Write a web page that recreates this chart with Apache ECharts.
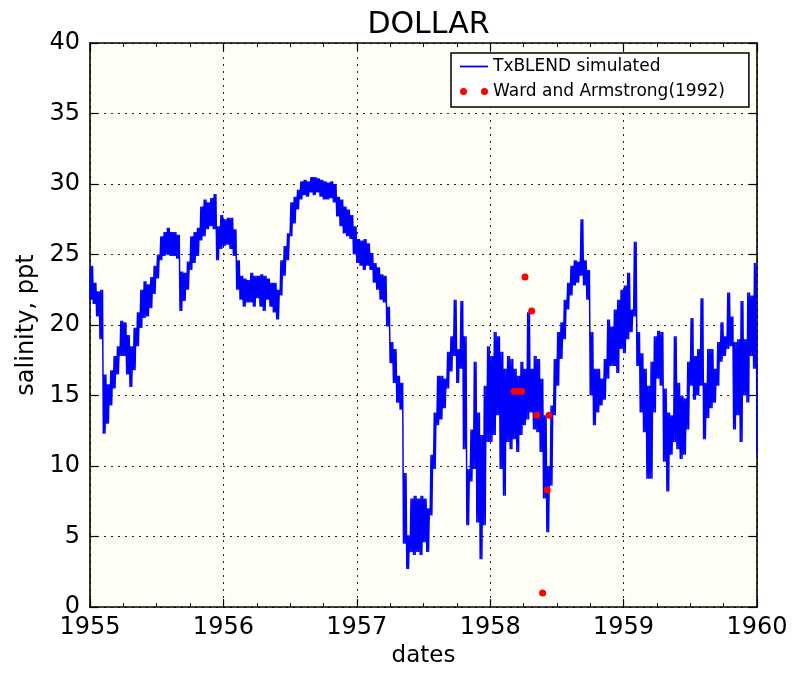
<!DOCTYPE html>
<html><head><meta charset="utf-8">
<script src="https://cdn.jsdelivr.net/npm/echarts@6/dist/echarts.min.js"></script>
<style>html,body{margin:0;padding:0;background:#fff}#c{width:795px;height:673px}</style>
</head><body><div id="c"></div>
<script>
// Simulated salinity, read from the picture as a high/low envelope every 0.025 year from 1955.0
const startYear = 1955;
const stepYears = 0.025;
const simHigh = [
24.2,23.0,22.4,22.5,16.5,15.8,16.8,17.8,18.5,20.3,
20.2,19.3,18.5,19.8,20.9,22.5,23.1,22.9,23.4,24.2,
25.0,26.3,26.6,26.9,26.6,26.6,26.4,23.8,23.7,24.5,
26.3,26.6,26.9,28.4,28.9,28.7,29.0,29.3,27.0,27.8,
27.5,27.6,27.6,26.8,24.6,23.5,23.3,23.2,23.7,23.5,
23.5,23.6,23.5,23.3,23.0,23.0,22.5,24.6,25.6,26.5,
28.7,29.1,29.6,30.2,30.3,30.2,30.5,30.5,30.4,30.3,
30.2,30.1,30.2,30.0,29.1,28.9,28.4,28.2,27.8,27.0,
26.1,26.0,26.1,25.8,25.1,24.4,24.1,23.6,23.5,21.3,
18.8,18.3,16.4,15.9,9.5,5.1,7.7,7.9,7.7,7.9,
7.7,7.0,10.8,13.8,16.4,16.4,16.2,18.1,19.2,21.8,
18.3,21.7,19.2,9.8,12.6,17.4,13.8,12.2,15.7,18.5,
17.8,19.5,19.2,18.1,16.9,17.8,17.6,16.9,16.4,17.4,
16.9,20.9,16.9,17.8,17.6,16.2,13.6,10.0,14.3,17.6,
19.5,20.2,21.8,23.0,24.2,24.6,24.5,27.5,24.6,23.9,
19.5,16.9,16.9,16.2,17.6,20.4,19.9,21.1,21.8,22.5,
22.8,23.7,21.1,25.9,19.5,18.0,16.9,15.7,17.4,19.2,
19.6,19.5,15.5,13.8,13.6,19.2,15.9,15.0,14.8,17.4,
20.5,17.8,18.3,21.9,15.9,18.3,18.3,16.9,18.8,20.2,
19.2,22.3,20.6,18.8,19.0,21.7,19.0,22.3,22.1,24.4,
17.8];
const simLow = [
21.8,21.5,20.6,19.0,12.3,13.0,14.3,15.5,16.5,17.8,
17.8,16.5,15.6,16.8,18.5,19.8,20.5,20.6,21.2,22.2,
23.3,24.6,24.9,25.0,24.9,24.9,24.7,21.0,21.7,22.5,
23.9,24.4,24.9,26.0,26.3,26.8,27.0,26.8,24.6,25.4,
25.6,25.7,25.4,24.9,22.5,21.8,21.3,21.6,21.6,21.3,
21.9,21.3,21.0,21.8,21.3,20.9,20.4,22.1,23.5,24.6,
26.3,27.2,28.2,28.9,29.2,29.1,29.4,29.2,29.4,29.1,
28.9,28.9,29.0,28.7,27.7,27.0,26.5,26.3,26.1,25.0,
24.4,24.2,23.9,24.2,23.9,23.0,22.5,21.8,21.6,19.9,
17.3,15.9,14.5,14.0,4.5,2.7,3.9,3.7,3.9,3.7,
4.6,3.9,6.5,9.8,12.9,13.3,14.1,15.5,16.7,17.8,
15.9,16.9,11.2,5.8,8.9,9.8,6.0,3.4,5.8,11.7,
11.7,12.2,13.6,9.8,7.9,11.7,11.2,11.9,11.0,12.2,
12.9,13.3,13.8,12.6,12.4,11.0,7.7,5.3,8.6,13.6,
15.7,17.6,19.0,21.1,22.1,22.8,23.0,23.5,22.8,21.8,
15.0,12.9,13.8,14.3,14.7,16.2,17.1,17.1,16.6,18.3,
18.0,19.0,19.5,20.6,17.1,13.8,12.4,9.1,9.1,13.8,
16.2,15.7,10.3,8.2,10.8,11.7,11.2,10.5,10.8,12.6,
15.7,14.7,15.0,15.7,11.9,13.4,14.1,14.5,15.7,17.4,
17.8,18.3,18.5,12.6,13.6,11.7,15.0,14.5,17.8,16.9,
10.8];
// Observations (Ward and Armstrong 1992)
const obsDates = [1958.18, 1958.21, 1958.235, 1958.261, 1958.311, 1958.349, 1958.393, 1958.428, 1958.441];
const obsSalinity = [15.3, 15.3, 15.3, 23.4, 21.0, 13.6, 1.0, 8.3, 13.6];
const xTickYears = [1955, 1956, 1957, 1958, 1959, 1960];
const yTickValues = [0, 5, 10, 15, 20, 25, 30, 35, 40];

// Each step is drawn as a quick low/high oscillation so the noisy record shows as a band.
const simData = [];
const xMax = xTickYears[xTickYears.length - 1];
for (let i = 0; i < simHigh.length; i++) {
  const t = startYear + i * stepYears;
  const pair = [simLow[i], simHigh[i], simLow[i], simHigh[i]];
  for (let k = 0; k < pair.length; k++) {
    const tk = t + k * stepYears / pair.length;
    if (tk <= xMax) simData.push([tk, pair[k]]);
  }
}
const obsData = obsDates.map((d, i) => [d, obsSalinity[i]]);

const FONT = 'DejaVu Sans';
const frameLine = { show: true, lineStyle: { color: '#000', width: 1.6 } };
const dotted = { show: true, lineStyle: { color: '#222', width: 1, type: [2, 5] } };

const xBase = {
  type: 'value', min: xTickYears[0], max: xMax, interval: 1,
  axisLine: Object.assign({ onZero: false }, frameLine),
  axisTick: { show: true, inside: true, length: 8, lineStyle: { color: '#000', width: 1.2 } },
  minorTick: { show: true, splitNumber: 4, length: 4, lineStyle: { color: '#000', width: 1 } },
};
const yBase = {
  type: 'value', min: yTickValues[0], max: yTickValues[yTickValues.length - 1], interval: 5,
  axisLine: Object.assign({ onZero: false }, frameLine),
  axisTick: { show: true, inside: true, length: 8, lineStyle: { color: '#000', width: 1.2 } },
};

const chart = echarts.init(document.getElementById('c'), null, { renderer: 'canvas' });
chart.setOption({
  animation: false,
  backgroundColor: '#ffffff',
  title: {
    text: 'DOLLAR', left: 423.5, textAlign: 'center', top: 5,
    textStyle: { fontFamily: FONT, fontSize: 30, fontWeight: 'normal', color: '#000' }
  },
  grid: { left: 90, right: 38, top: 43, bottom: 65, show: true, backgroundColor: '#fefef6', borderWidth: 0 },
  legend: {
    orient: 'vertical', left: 451, top: 53,
    backgroundColor: '#ffffff', borderColor: '#000', borderWidth: 1.5, borderRadius: 0,
    padding: [5, 24, 7, 9], itemGap: 8, itemWidth: 28, itemHeight: 7, itemTextGap: 18,
    textStyle: { fontFamily: FONT, fontSize: 17, color: '#000', lineHeight: 17 },
    data: [
      { name: 'TxBLEND simulated', icon: 'path://M0,0L28,0L28,1.8L0,1.8Z' },
      { name: 'Ward and Armstrong(1992)', icon: 'path://M3.5,0A3.5,3.5,0,1,1,3.5,7A3.5,3.5,0,1,1,3.5,0ZM24.5,0A3.5,3.5,0,1,1,24.5,7A3.5,3.5,0,1,1,24.5,0Z' }
    ]
  },
  xAxis: [
    Object.assign({}, xBase, {
      position: 'bottom', name: 'dates', nameLocation: 'middle', nameGap: 35,
      nameTextStyle: { fontFamily: FONT, fontSize: 23, color: '#000' },
      axisLabel: { show: true, margin: 9, fontFamily: FONT, fontSize: 24, color: '#000',
        showMinLabel: true, showMaxLabel: true, formatter: v => String(Math.round(v)) },
      splitLine: dotted
    }),
    Object.assign({}, xBase, { position: 'top', axisLabel: { show: false }, splitLine: { show: false } })
  ],
  yAxis: [
    Object.assign({}, yBase, {
      position: 'left', name: 'salinity, ppt', nameLocation: 'middle', nameGap: 46, nameRotate: 90,
      nameTextStyle: { fontFamily: FONT, fontSize: 24, color: '#000' },
      axisLabel: { show: true, margin: 10, fontFamily: FONT, fontSize: 24, color: '#000',
        showMinLabel: true, showMaxLabel: true },
      splitLine: dotted
    }),
    Object.assign({}, yBase, { position: 'right', axisLabel: { show: false }, splitLine: { show: false } })
  ],
  series: [
    {
      name: 'TxBLEND simulated', type: 'line', xAxisIndex: 0, yAxisIndex: 0,
      data: simData, showSymbol: false, symbol: 'none', sampling: null,
      lineStyle: { color: '#0000ff', width: 1.5 }, itemStyle: { color: '#0000ff' }, z: 2
    },
    {
      name: 'Ward and Armstrong(1992)', type: 'scatter', xAxisIndex: 0, yAxisIndex: 0,
      data: obsData, symbol: 'circle', symbolSize: 7,
      itemStyle: { color: '#ff0000', opacity: 1 }, z: 3
    }
  ]
});
</script>
</body></html>
